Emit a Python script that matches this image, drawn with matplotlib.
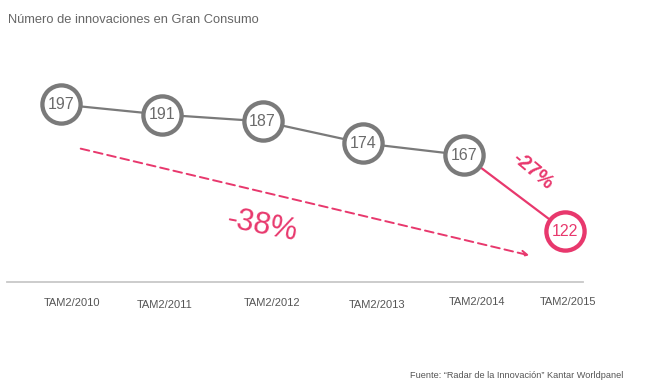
import matplotlib
matplotlib.use("Agg")
import matplotlib.pyplot as plt

plt.rcParams["font.family"] = ["Liberation Sans", "DejaVu Sans"]

# ── data ─────────────────────────────────────────────────────────────────────
periods = ["TAM2/2010", "TAM2/2011", "TAM2/2012", "TAM2/2013", "TAM2/2014", "TAM2/2015"]
innovations = [197, 191, 187, 174, 167, 122]
drop_total = "-38%"
drop_last = "-27%"

# ── palette ──────────────────────────────────────────────────────────────────
GRAY = "#7a7a7a"
TXT = "#6b6b6b"
PINK = "#e8386d"

W, H = 645, 391
fig = plt.figure(figsize=(W / 100, H / 100), dpi=100, facecolor="white")
ax = fig.add_axes([0, 0, 1, 1])
ax.set_xlim(-0.605, 5.794)
ax.set_ylim(27.2, 258.9)
ax.axis("off")

xs = list(range(len(innovations)))
n = len(innovations)

# connecting lines
ax.plot(xs[:-1], innovations[:-1], color=GRAY, lw=1.6, zorder=1)
ax.plot(xs[-2:], innovations[-2:], color=PINK, lw=1.6, zorder=1)

# circles with values
for i, v in enumerate(innovations):
    col = PINK if i == n - 1 else GRAY
    tcol = PINK if i == n - 1 else TXT
    ax.plot(i, v, "o", ms=27.5, mfc="white", mec=col, mew=3.1, zorder=3)
    ax.text(i, v, str(v), ha="center", va="center", fontsize=11.5,
            color=tcol, zorder=4)

# baseline
ax.plot([7 / W, 583 / W], [1 - 282 / H, 1 - 282 / H], transform=ax.transAxes,
        color="#c8c8c8", lw=1.3)

# category labels (slightly offset as in the original layout)
dx = [11, 3, 9, 14, 13, 3]
dy = [303, 305, 303, 305, 302, 302]
for i, lab in enumerate(periods):
    ax.annotate(lab, xy=(i, 1 - dy[i] / H), xycoords=("data", "axes fraction"),
                xytext=(dx[i] * 0.72, 0), textcoords="offset points",
                ha="center", va="center", fontsize=8, color="#555555")

# overall trend arrow
ax.annotate("", xy=(532 / W, 1 - 256 / H), xytext=(78 / W, 1 - 148 / H),
            xycoords="axes fraction",
            arrowprops=dict(arrowstyle="->", color=PINK, lw=1.4,
                            linestyle=(0, (4.5, 2.5)), mutation_scale=10))
ax.text(262 / W, 1 - 226 / H, drop_total, transform=ax.transAxes,
        ha="center", va="center", fontsize=22, color=PINK, rotation=-11)
ax.text(533 / W, 1 - 171 / H, drop_last, transform=ax.transAxes,
        ha="center", va="center", fontsize=14.5, color=PINK, rotation=-40,
        fontweight="bold")

# title + source
fig.text(8 / W, 1 - 20 / H, "Número de innovaciones en Gran Consumo",
         ha="left", va="center", fontsize=9.3, color="#666666")
fig.text(623 / W, 1 - 375 / H, "Fuente: \u201cRadar de la Innovación\u201d Kantar Worldpanel",
         ha="right", va="center", fontsize=6.6, color="#555555")

fig.savefig("out.png", dpi=100, facecolor="white")
